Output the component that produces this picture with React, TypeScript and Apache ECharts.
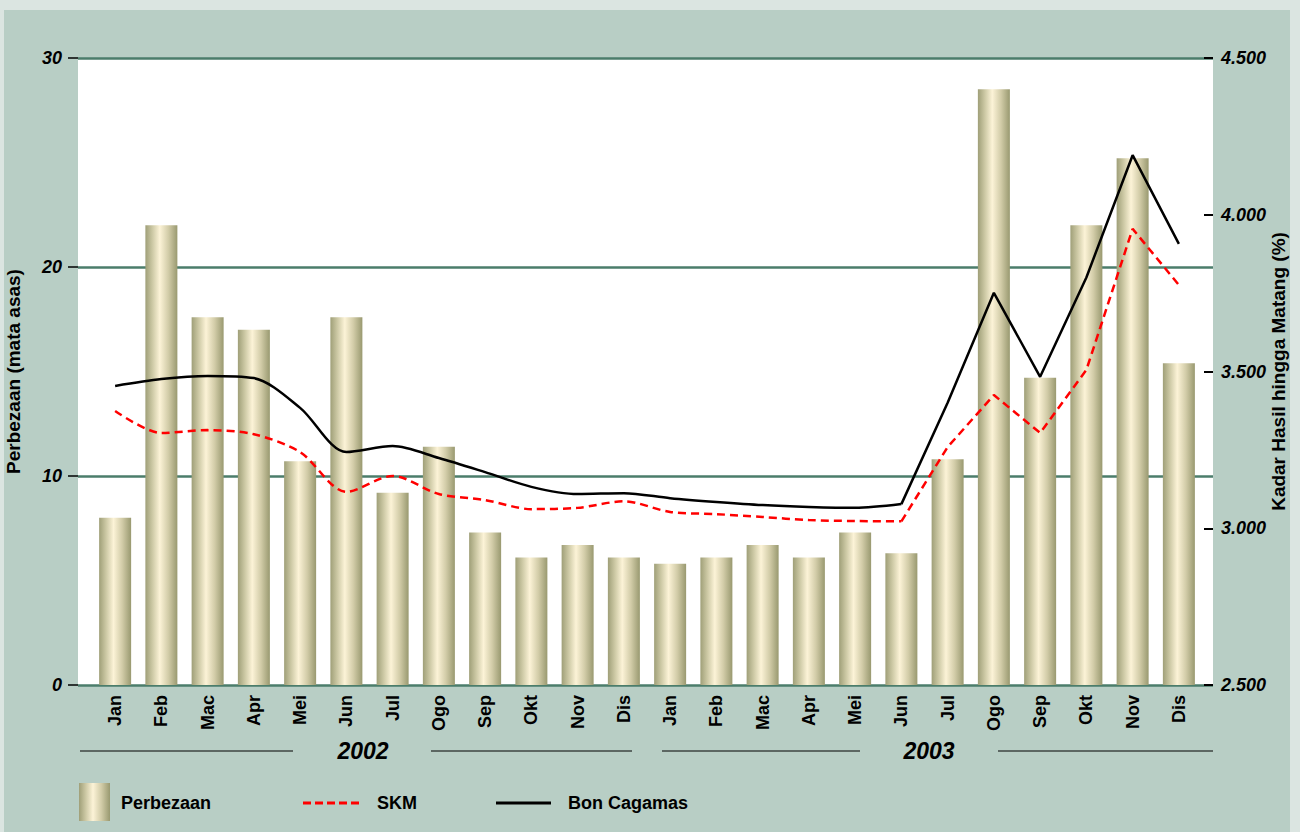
import React, { useEffect, useRef } from "react";
import * as echarts from "echarts";

const months = ["Jan", "Feb", "Mac", "Apr", "Mei", "Jun", "Jul", "Ogo", "Sep", "Okt", "Nov", "Dis"];
const years = ["2002", "2003"];
const categories = [...months, ...months];

// Perbezaan (mata asas) - left axis
const perbezaan = [
  8.0, 22.0, 17.6, 17.0, 10.7, 17.6, 9.2, 11.4, 7.3, 6.1, 6.7, 6.1,
  5.8, 6.1, 6.7, 6.1, 7.3, 6.3, 10.8, 28.5, 14.7, 22.0, 25.2, 15.4,
];
// SKM yield (%) - right axis
const skm = [
  3.374, 3.304, 3.313, 3.300, 3.243, 3.116, 3.167, 3.109, 3.090, 3.061, 3.065, 3.086,
  3.052, 3.045, 3.036, 3.026, 3.023, 3.022, 3.259, 3.425, 3.304, 3.505, 3.955, 3.776,
];
// Bon Cagamas yield (%) - right axis
const bonCagamas = [
  3.454, 3.476, 3.486, 3.479, 3.384, 3.243, 3.262, 3.224, 3.179, 3.132, 3.109, 3.112,
  3.096, 3.084, 3.074, 3.068, 3.065, 3.077, 3.400, 3.751, 3.483, 3.800, 4.190, 3.907,
];

const leftTicks = { min: 0, max: 30, interval: 10 };
const rightTicks = { min: 2.5, max: 4.5, interval: 0.5 };
const smoothUntil = 17; // curve is smooth up to Jun 2003, straight afterwards

const FONT = "'Liberation Sans', Arial, Helvetica, sans-serif";

export default function App() {
  const ref = useRef<HTMLDivElement>(null);

  useEffect(() => {
    if (!ref.current) return;
    const chart = echarts.init(ref.current, undefined, { renderer: "svg" });

    const stops = [
      { offset: 0, color: "#9f9f78" },
      { offset: 0.22, color: "#cdc9a5" },
      { offset: 0.45, color: "#fcf3d7" },
      { offset: 0.72, color: "#d2cca8" },
      { offset: 1, color: "#999970" },
    ];
    const barGradient = new echarts.graphic.LinearGradient(0, 0, 1, 0, stops);
    const legendGradient = { type: "linear", x: 0, y: 0, x2: 1, y2: 0, colorStops: stops };

    const part = (arr: number[], smooth: boolean) =>
      arr.map((v, i) => (smooth ? (i <= smoothUntil ? v : null) : i >= smoothUntil ? v : null));

    const lineSeries = (name: string, data: number[], style: any) => [
      {
        name, type: "line", xAxisIndex: 1, yAxisIndex: 3, data: part(data, true),
        smooth: 0.3, showSymbol: false, symbol: "none", lineStyle: style, z: 5,
      },
      {
        name, type: "line", xAxisIndex: 1, yAxisIndex: 3, data: part(data, false),
        smooth: false, showSymbol: false, symbol: "none", lineStyle: style, z: 5,
      },
    ];

    const textStyleBase = { fontFamily: FONT, fontWeight: "bold", fill: "#000" };

    const yearGraphic = (label: string, cx: number, l1: [number, number], l2: [number, number]) => [
      { type: "line", shape: { x1: l1[0], y1: 751, x2: l1[1], y2: 751 }, style: { stroke: "#000", lineWidth: 1 } },
      { type: "line", shape: { x1: l2[0], y1: 751, x2: l2[1], y2: 751 }, style: { stroke: "#000", lineWidth: 1 } },
      {
        type: "text", x: cx, y: 751,
        style: { ...textStyleBase, text: label, fontSize: 23, fontStyle: "italic", align: "center", verticalAlign: "middle" },
      },
    ];

    chart.setOption({
      animation: false,
      grid: [
        {
          left: 78, right: 87, top: 58, bottom: 147, show: true, backgroundColor: "#ffffff", borderWidth: 0,
          containLabel: false, outerBoundsMode: "none",
        },
        { left: 92, right: 98, top: 58, bottom: 147, containLabel: false, outerBoundsMode: "none" },
      ],
      xAxis: [
        { gridIndex: 0, type: "value", min: 0, max: 1, show: false },
        {
          gridIndex: 1, type: "category", data: categories, boundaryGap: true,
          axisLine: { show: false }, axisTick: { show: false },
          axisLabel: {
            rotate: 90, margin: 10, interval: 0, color: "#000",
            fontFamily: FONT, fontWeight: "bold", fontSize: 18,
          },
        },
      ],
      yAxis: [
        {
          gridIndex: 0, type: "value", position: "left", ...leftTicks,
          name: "Perbezaan (mata asas)", nameLocation: "middle", nameGap: 55, nameMoveOverlap: false,
          nameTextStyle: { fontFamily: FONT, fontWeight: "bold", fontSize: 19, color: "#000" },
          axisLine: { show: false },
          axisTick: { show: true, length: 10, lineStyle: { color: "#000", width: 1.5 } },
          axisLabel: { margin: 16, color: "#000", fontFamily: FONT, fontWeight: "bold", fontStyle: "italic", fontSize: 18 },
          splitLine: { show: true, lineStyle: { color: "#4b7d6b", width: 2.5 } },
        },
        {
          gridIndex: 0, type: "value", position: "right", ...rightTicks,
          name: "Kadar Hasil hingga Matang (%)", nameLocation: "middle", nameGap: 56, nameMoveOverlap: false,
          nameTextStyle: { fontFamily: FONT, fontWeight: "bold", fontSize: 19, color: "#000" },
          axisLine: { show: false },
          axisTick: { show: true, inside: true, length: 9, lineStyle: { color: "#000", width: 2 } },
          axisLabel: {
            margin: 8, color: "#000", fontFamily: FONT, fontWeight: "bold", fontStyle: "italic", fontSize: 18,
            formatter: (v: number) => v.toFixed(3),
          },
          splitLine: { show: false },
        },
        { gridIndex: 1, type: "value", ...leftTicks, show: false, splitLine: { show: false } },
        { gridIndex: 1, type: "value", ...rightTicks, show: false, splitLine: { show: false } },
      ],
      series: [
        {
          name: "Perbezaan", type: "bar", xAxisIndex: 1, yAxisIndex: 2, data: perbezaan,
          barWidth: 32, itemStyle: { color: barGradient }, z: 3,
        },
        ...lineSeries("SKM", skm, { color: "#ff0000", width: 2.5, type: [8, 5] }),
        ...lineSeries("Bon Cagamas", bonCagamas, { color: "#000000", width: 2.5 }),
      ],
      graphic: [
        ...yearGraphic(years[0], 363, [80, 293], [431, 632]),
        ...yearGraphic(years[1], 929, [662, 860], [998, 1213]),
        { type: "rect", shape: { x: 79, y: 783, width: 31, height: 38 }, style: { fill: legendGradient as any } },
        { type: "text", x: 121, y: 803, style: { ...textStyleBase, text: "Perbezaan", fontSize: 18, verticalAlign: "middle" } },
        { type: "line", shape: { x1: 303, y1: 803, x2: 360, y2: 803 }, style: { stroke: "#ff0000", lineWidth: 3, lineDash: [8, 4] } },
        { type: "text", x: 377, y: 803, style: { ...textStyleBase, text: "SKM", fontSize: 18, verticalAlign: "middle" } },
        { type: "line", shape: { x1: 496, y1: 803, x2: 551, y2: 803 }, style: { stroke: "#000", lineWidth: 3 } },
        { type: "text", x: 568, y: 803, style: { ...textStyleBase, text: "Bon Cagamas", fontSize: 18, verticalAlign: "middle" } },
      ],
    });

    return () => chart.dispose();
  }, []);

  return (
    <div style={{ position: "fixed", left: 0, top: 0, width: 1300, height: 832, background: "#dbe5e1", overflow: "hidden" }}>
      <div style={{ position: "absolute", left: 4, top: 10, width: 1286, height: 822, background: "#b8cec5" }} />
      <div ref={ref} style={{ position: "absolute", left: 0, top: 0, width: 1300, height: 832 }} />
    </div>
  );
}
